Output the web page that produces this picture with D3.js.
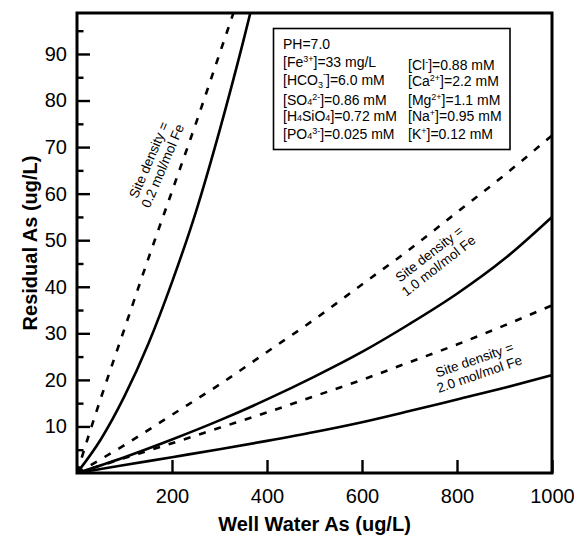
<!DOCTYPE html>
<html>
<head>
<meta charset="utf-8">
<script src="https://cdn.jsdelivr.net/npm/d3@7"></script>
<style>
  html, body { margin: 0; padding: 0; background: #fff; }
  svg { display: block; }
  text { font-family: "Liberation Sans", Arial, sans-serif; fill: #000; }
</style>
</head>
<body>
<svg id="chart" width="574" height="539"></svg>
<script>
// ---------- data ----------
const xTickValues = [200, 400, 600, 800, 1000];
const yTickValues = [10, 20, 30, 40, 50, 60, 70, 80, 90];
const yMinorTickValues = [5, 15, 25, 35, 45, 55, 65, 75, 85, 95];

// site density 0.2 mol/mol Fe
const x02Solid = [0, 50, 100, 150, 200, 250, 300, 350, 380];
const y02Solid = [0, 7.2, 16.5, 27.7, 41, 56, 73.5, 92.7, 105];
const x02Dashed = [0, 25, 50, 100, 150, 200, 250, 300, 350];
const y02Dashed = [0, 8.2, 16, 31, 46, 60.5, 75, 90, 105];

// site density 1.0 and 2.0 mol/mol Fe
const xWell = [0, 100, 200, 300, 400, 500, 600, 700, 800, 900, 1000];
const y10Solid = [0, 3.4, 7.2, 11.3, 15.8, 20.7, 26, 32, 38.5, 46, 55];
const y10Dashed = [0, 6, 12.5, 19, 26, 33, 40.5, 48, 56, 64, 72.5];
const y20Solid = [0, 1.7, 3.4, 5.1, 6.9, 8.8, 10.9, 13.3, 15.8, 18.3, 21];
const y20Dashed = [0, 3.2, 6.4, 9.7, 13, 16.5, 20, 23.8, 27.6, 31.7, 36];

const xTitle = "Well Water As (ug/L)";
const yTitle = "Residual As (ug/L)";

// ---------- layout ----------
const svg = d3.select("#chart");
const L = 77, R = 552, T = 13, B = 473;
const x = d3.scaleLinear().domain([0, 1000]).range([L, R]);
const y = d3.scaleLinear().domain([0, 98.8]).range([B, T]);

const defs = svg.append("defs");
defs.append("clipPath").attr("id", "plotclip")
  .append("rect").attr("x", L).attr("y", T).attr("width", R - L).attr("height", B - T);

const series = [
  { xs: x02Solid, ys: y02Solid, dash: null },
  { xs: x02Dashed, ys: y02Dashed, dash: "7,9" },
  { xs: xWell, ys: y10Solid, dash: null },
  { xs: xWell, ys: y10Dashed, dash: "7,9" },
  { xs: xWell, ys: y20Solid, dash: null },
  { xs: xWell, ys: y20Dashed, dash: "7,9" }
];

const line = d3.line().x(d => x(d[0])).y(d => y(d[1])).curve(d3.curveMonotoneX);
const gLines = svg.append("g").attr("clip-path", "url(#plotclip)");
series.forEach(s => {
  gLines.append("path")
    .datum(s.xs.map((v, i) => [v, s.ys[i]]))
    .attr("d", line)
    .attr("fill", "none")
    .attr("stroke", "#000")
    .attr("stroke-width", 2.6)
    .attr("stroke-dasharray", s.dash)
    .attr("stroke-linecap", "butt");
});

// ---------- axes ----------
const xAxis = d3.axisBottom(x).tickValues(xTickValues).tickSize(-13).tickPadding(16).tickFormat(d3.format("d"));
const gx = svg.append("g").attr("transform", `translate(0,${B})`).call(xAxis);
gx.select(".domain").remove();
gx.selectAll(".tick line").attr("stroke", "#000").attr("stroke-width", 2.4);
gx.selectAll(".tick text").attr("font-size", 20).attr("font-family", "Liberation Sans, Arial, sans-serif").attr("dy", "0.71em");

const yAxis = d3.axisLeft(y).tickValues(yTickValues).tickSize(-13).tickPadding(10).tickFormat(d3.format("d"));
const gy = svg.append("g").attr("transform", `translate(${L},0)`).call(yAxis);
gy.select(".domain").remove();
gy.selectAll(".tick line").attr("stroke", "#000").attr("stroke-width", 2.4);
gy.selectAll(".tick text").attr("font-size", 20).attr("font-family", "Liberation Sans, Arial, sans-serif");

const yMinor = d3.axisLeft(y).tickValues(yMinorTickValues).tickSize(-6.5).tickFormat("");
const gym = svg.append("g").attr("transform", `translate(${L},0)`).call(yMinor);
gym.select(".domain").remove();
gym.selectAll(".tick line").attr("stroke", "#000").attr("stroke-width", 2.4);

// frame
svg.append("rect").attr("x", L).attr("y", T).attr("width", R - L).attr("height", B - T)
  .attr("fill", "none").attr("stroke", "#000").attr("stroke-width", 3);

// titles
svg.append("text").attr("x", (L + R) / 2).attr("y", 531).attr("text-anchor", "middle")
  .attr("font-size", 20).attr("font-weight", "bold").text(xTitle);
svg.append("text").attr("transform", `translate(37,${(T + B) / 2}) rotate(-90)`).attr("text-anchor", "middle")
  .attr("font-size", 20).attr("font-weight", "bold").text(yTitle);

// ---------- curve labels ----------
function curveLabel(cx, cy, angle, l1, l2) {
  const g = svg.append("g").attr("transform", `translate(${cx},${cy}) rotate(${angle})`);
  g.append("text").attr("text-anchor", "middle").attr("y", -3).attr("font-size", 13.5).text(l1);
  g.append("text").attr("text-anchor", "middle").attr("y", 12).attr("font-size", 13.5).text(l2);
}
curveLabel(156, 163, -67, "Site density =", "0.2 mol/mol Fe");
curveLabel(434, 260, -38, "Site density =", "1.0 mol/mol Fe");
curveLabel(477, 367, -19, "Site density =", "2.0 mol/mol Fe");

// ---------- condition box ----------
svg.append("rect").attr("x", 273.5).attr("y", 28.5).attr("width", 236.5).attr("height", 121)
  .attr("fill", "#fff").attr("stroke", "#000").attr("stroke-width", 1.6);

const leftCol = [
  [["PH=7.0"]],
  [["[Fe"], ["3+", "sup"], ["]=33 mg/L"]],
  [["[HCO"], ["3", "sub"], ["-", "sup2"], ["]=6.0 mM"]],
  [["[SO"], ["4", "small"], ["2-", "sup"], ["]=0.86 mM"]],
  [["[H"], ["4", "small"], ["SiO"], ["4", "small"], ["]=0.72 mM"]],
  [["[PO"], ["4", "small"], ["3-", "sup"], ["]=0.025 mM"]]
];
const leftBase = [48.5, 66.5, 84.5, 105, 121, 138.5];
const rightCol = [
  [["[Cl"], ["-", "sup"], ["]=0.88 mM"]],
  [["[Ca"], ["2+", "sup"], ["]=2.2 mM"]],
  [["[Mg"], ["2+", "sup"], ["]=1.1 mM"]],
  [["[Na"], ["+", "sup"], ["]=0.95 mM"]],
  [["[K"], ["+", "sup"], ["]=0.12 mM"]]
];
const rightBase = [70, 86, 104.5, 121, 138.5];

function richText(xp, yp, parts) {
  const t = svg.append("text").attr("x", xp).attr("y", yp).attr("font-size", 14);
  parts.forEach(p => {
    const s = t.append("tspan").text(p[0]);
    if (p[1] === "sup") s.attr("font-size", 9).attr("baseline-shift", "5");
    if (p[1] === "sup2") s.attr("font-size", 9).attr("baseline-shift", "8");
    if (p[1] === "sub") s.attr("font-size", 9).attr("baseline-shift", "-3");
    if (p[1] === "small") s.attr("font-size", 9).attr("baseline-shift", "0");
  });
}
leftCol.forEach((p, i) => richText(283, leftBase[i], p));
rightCol.forEach((p, i) => richText(408, rightBase[i], p));
</script>
</body>
</html>
